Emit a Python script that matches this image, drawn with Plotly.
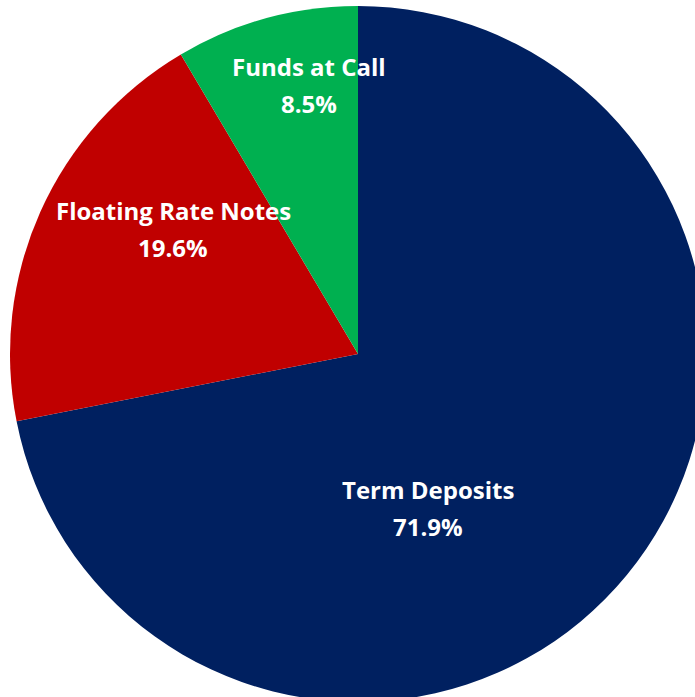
import plotly.graph_objects as go

labels = ["Term Deposits", "Floating Rate Notes", "Funds at Call"]
values = [71.9, 19.6, 8.5]
colors = ["#002060", "#C00000", "#00B050"]

# label anchor positions (pixel centres of the two text lines, page coordinates)
label_x = [428, 173, 309]
label_y1 = [489, 210, 66]
label_y2 = [526, 247, 103]

W, H = 710, 710
ML, MR, MT, MB = 10, 4, 6, 8
PW, PH = W - ML - MR, H - MT - MB
OFF = 0  # page body margin removed via post_script


def px_to_paper(x, y):
    return (x - OFF - ML) / PW, 1 - (y - OFF - MT) / PH


fig = go.Figure(go.Pie(
    labels=labels,
    values=values,
    sort=False,
    direction="clockwise",
    rotation=0,
    marker=dict(colors=colors, line=dict(width=0)),
    textinfo="none",
    showlegend=False,
    hoverinfo="skip",
))

total = sum(values)
font = dict(family="Open Sans", size=24, color="white")
for lab, v, x, y1, y2 in zip(labels, values, label_x, label_y1, label_y2):
    ax, ay1 = px_to_paper(x, y1)
    _, ay2 = px_to_paper(x, y2)
    fig.add_annotation(x=ax, y=ay1, xref="paper", yref="paper", text=f"<b>{lab}</b>",
                       showarrow=False, font=font, xanchor="center", yanchor="middle")
    fig.add_annotation(x=ax, y=ay2, xref="paper", yref="paper", text=f"<b>{v / total * 100:.1f}%</b>",
                       showarrow=False, font=font, xanchor="center", yanchor="middle")

fig.update_layout(
    width=W, height=H,
    margin=dict(l=ML, r=MR, t=MT, b=MB),
    paper_bgcolor="white",
    plot_bgcolor="white",
)
fig.write_html(
    "out.html",
    config={"displayModeBar": False},
    post_script="document.body.style.margin='0';document.body.style.overflow='hidden';"
                "document.documentElement.style.overflow='hidden';",
)
